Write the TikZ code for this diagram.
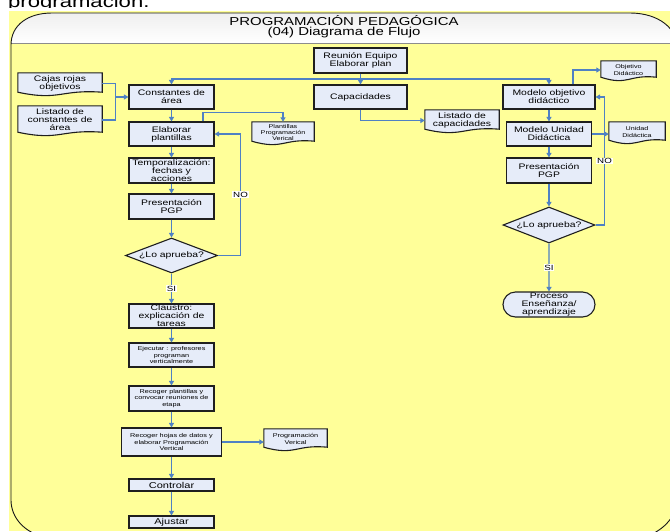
\documentclass[tikz,border=0pt]{standalone}
\usepackage{fontspec}
\setmainfont{Liberation Sans}[FakeStretch=1.3]
\definecolor{pgyellow}{HTML}{FFFF99}
\definecolor{boxfill}{HTML}{E6ECF9}
\definecolor{boxline}{HTML}{1F1F1F}
\definecolor{linkblue}{HTML}{4F81C4}
\usepackage{tikz}
\usetikzlibrary{calc, positioning, shapes.geometric, shapes.misc, arrows.meta, backgrounds}

\newcommand{\sizept}[2]{\fontsize{#1pt}{#2pt}\selectfont}
% document shape: flat top, wavy bottom, drawn behind the text node
\newcommand{\docwave}[1]{%
  \begin{pgfonlayer}{background}
  \draw[docshape] (#1.north west) -- (#1.north east) -- ([yshift=2pt]#1.south east)
    .. controls ($(#1.south)+(0,-5)$) and ($(#1.south)+(0,7)$) .. ([yshift=2pt]#1.south west) -- cycle;
  \end{pgfonlayer}}

\tikzset{
  proc/.style={draw=boxline, fill=boxfill, line width=1.1pt, minimum width=85pt, minimum height=24pt,
    inner xsep=1pt, inner ysep=0pt, align=center, font=\sizept{8}{8}},
  smalltxt/.style={font=\sizept{5.6}{6.5}},
  decision/.style={diamond, aspect=2.6, draw=boxline, fill=boxfill, line width=1.1pt, minimum width=92pt,
    minimum height=36pt, inner sep=0pt, font=\sizept{8}{8}},
  terminal/.style={rounded rectangle, draw=boxline, fill=boxfill, line width=1.1pt, minimum width=92pt,
    minimum height=25pt, inner sep=0pt, align=center, font=\sizept{8}{8.4}},
  docnode/.style={inner sep=0.5pt, align=center, font=\sizept{8}{8}},
  docshape/.style={draw=boxline, fill=boxfill, line width=1.1pt},
  line/.style={draw=linkblue, line width=1.3pt},
  link/.style={line, -{Triangle[length=4.5pt,width=5pt]}},
  answer/.style={fill=white, inner sep=0.8pt, font=\sizept{7.5}{7.5}}
}

\begin{document}
\begin{tikzpicture}[x=1pt, y=-1pt]
  \useasboundingbox (0,0) rectangle (670,531);

  % cut-off heading above the sheet
  \begin{scope}
    \clip (0,0) rectangle (670,7.5);
    \node[anchor=base west, inner sep=0pt, font=\sizept{17}{17}] (lead) at (8,7) {programación.};
  \end{scope}

  \begin{pgfonlayer}{background}
    \fill[pgyellow] (9,11) rectangle (670,531);
    \begin{scope}
      \clip (11,45) .. controls (11,25) and (28,13) .. (52,13) -- (630,13)
        .. controls (658,13) and (678,28) .. (678,50) -- (678,495)
        .. controls (678,515) and (665,530) .. (645,537) -- (45,537)
        .. controls (25,533) and (11,518) .. (11,500) -- cycle;
      \shade[top color=black!9!white, bottom color=white] (0,0) rectangle (680,43);
      \draw[black!45, line width=0.8pt] (0,43) -- (680,43);
    \end{scope}
    \draw[black!90, line width=0.9pt] (11,45) .. controls (11,25) and (28,13) .. (52,13) -- (630,13)
      .. controls (658,13) and (678,28) .. (678,50) -- (678,495)
      .. controls (678,515) and (665,530) .. (645,537) -- (45,537)
      .. controls (25,533) and (11,518) .. (11,500) -- cycle;
  \end{pgfonlayer}

  \node[font=\sizept{11.5}{12}, inner sep=0pt] (title) at (344,21) {PROGRAMACIÓN PEDAGÓGICA};
  \node[font=\sizept{11.5}{12}, inner sep=0pt] (subtitle) at (344,33) {(04) Diagrama de Flujo};

  % process boxes
  \node[proc, minimum width=93pt, minimum height=25pt] (reunion) at (360.5,60.5) {Reunión Equipo\\Elaborar plan};
  \node[proc] (constantes) at (171.5,97) {Constantes de\\área};
  \node[proc, minimum width=93pt] (capacidades) at (360.5,97) {Capacidades};
  \node[proc, minimum width=92pt] (modobj) at (549,97) {Modelo objetivo\\didáctico};
  \node[proc] (elaborar) at (171.5,134) {Elaborar\\plantillas};
  \node[proc] (modunid) at (549,134) {Modelo Unidad\\Didáctica};
  \node[proc, minimum height=25pt] (temporal) at (171.5,170.5) {Temporalización:\\fechas y\\acciones};
  \node[proc, minimum height=25pt] (presL) at (171.5,206.5) {Presentación\\PGP};
  \node[proc, minimum height=25pt] (presR) at (549,170.5) {Presentación\\PGP};
  \node[decision, minimum height=35pt] (apruebaL) at (171.5,255.5) {¿Lo aprueba?};
  \node[decision] (apruebaR) at (549,225) {¿Lo aprueba?};
  \node[terminal] (proceso) at (549,304.5) {Proceso\\Enseñanza/\\aprendizaje};
  \node[proc] (claustro) at (171.5,316) {Claustro:\\explicación de\\tareas};
  \node[proc, smalltxt] (ejecutar) at (171.5,355) {Ejecutar : profesores\\programan\\verticalmente};
  \node[proc, smalltxt, minimum height=25pt] (recplant) at (171.5,398.5) {Recoger plantillas y\\convocar reuniones de\\etapa};
  \node[proc, smalltxt, minimum width=100pt, minimum height=28pt] (rechojas) at (171.5,442) {Recoger hojas de datos y\\elaborar Programación\\Vertical};
  \node[proc, minimum height=12pt, font=\sizept{8.5}{8.5}] (controlar) at (171.5,485) {Controlar};
  \node[proc, minimum height=12pt, font=\sizept{8.5}{8.5}] (ajustar) at (171.5,522) {Ajustar};

  % documents
  \node[docnode, minimum width=84pt, minimum height=21pt] (cajas) at (60,83.5) {Cajas rojas\\objetivos};
  \node[docnode, minimum width=84pt, minimum height=28pt] (listconst) at (60,120) {Listado de\\constantes de\\área};
  \node[docnode, minimum width=62pt, minimum height=21pt, font=\sizept{5.5}{6}] (plantdoc) at (283,132.5) {Plantillas\\Programación\\Verical};
  \node[docnode, minimum width=74pt, minimum height=21pt] (listcap) at (462,120.5) {Listado de\\capacidades};
  \node[docnode, minimum width=55pt, minimum height=18pt, font=\sizept{5.5}{6.7}] (objdoc) at (628.5,70) {Objetivo\\Didáctico};
  \node[docnode, minimum width=56pt, minimum height=20pt, font=\sizept{5.5}{6.7}] (unidoc) at (637,132) {Unidad\\Didáctica};
  \node[docnode, minimum width=63pt, minimum height=20pt, font=\sizept{5.6}{6.7}] (progvert) at (295.5,439) {Programación\\Verical};
  \foreach \d in {cajas, listconst, plantdoc, listcap, objdoc, unidoc, progvert}
    \docwave{\d};

  % flow
  \foreach \from/\to in {constantes/elaborar, elaborar/temporal, temporal/presL, presL/apruebaL,
      claustro/ejecutar, ejecutar/recplant, recplant/rechojas, rechojas/controlar, controlar/ajustar,
      modobj/modunid, modunid/presR, presR/apruebaR}
    \draw[link] (\from) -- (\to);

  \draw[link] (reunion) -- (capacidades);
  \coordinate (split) at ($(reunion.south)!0.5!(capacidades.north)$);
  \draw[link] (split) -| (constantes.north);
  \draw[link] (split) -| (modobj.north);

  \coordinate (joinc) at ($(constantes.west)+(-13,0)$);
  \draw[line] (cajas.east) -| (joinc);
  \draw[line] (listconst.east) -| (joinc);
  \draw[link] (joinc) -- (constantes.west);

  \draw[link] ([xshift=31.5pt]elaborar.north) -- ++(0,-9) -| (plantdoc.north);
  \draw[link] (capacidades.south) |- (listcap.west);
  \draw[link] ([xshift=24pt]modobj.north) |- (objdoc.west);
  \draw[link] (modunid.east) -- (modunid.east -| unidoc.west);
  \draw[link] (rechojas.east) -- (rechojas.east -| progvert.west);

  \draw[link] (apruebaL.east) -- ++(22.5,0) |- node[answer, pos=0.25] {NO} (elaborar.east);
  \draw[link] (apruebaR.east) -- ++(9,0) |- node[answer, pos=0.25] {NO} (modobj.east);
  \draw[link] (apruebaL) -- node[answer] {SI} (claustro);
  \draw[link] (apruebaR) -- node[answer] {SI} (proceso);
\end{tikzpicture}
\end{document}
